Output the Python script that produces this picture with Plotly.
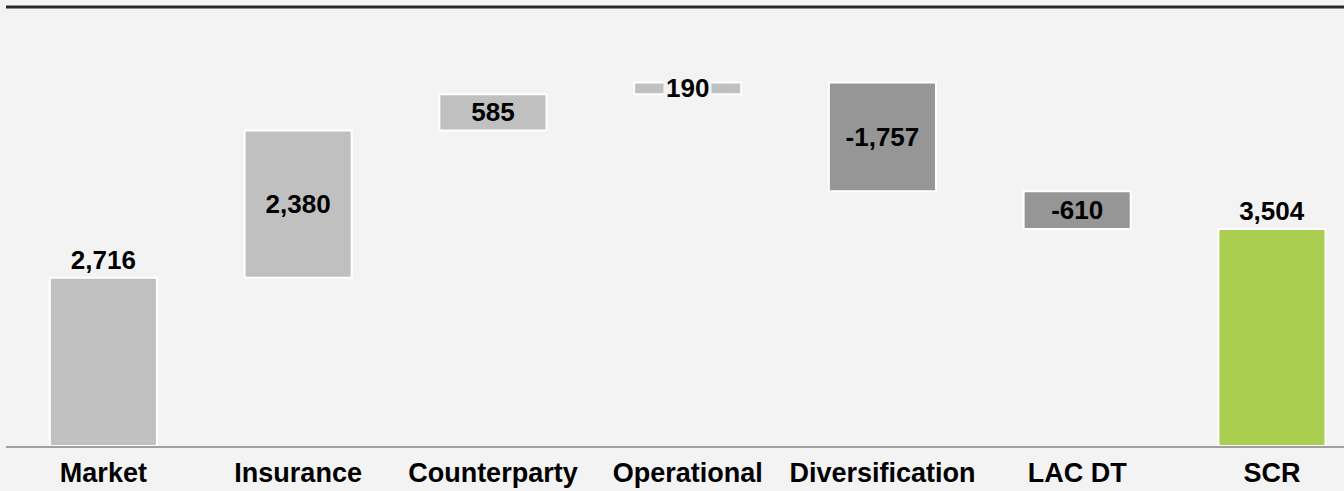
import plotly.graph_objects as go

categories = ["Market", "Insurance", "Counterparty", "Operational", "Diversification", "LAC DT", "SCR"]
values = [2716, 2380, 585, 190, -1757, -610, 3504]
measures = ["relative", "relative", "relative", "relative", "relative", "relative", "total"]
text_pos = ["outside", "inside", "inside", "none", "inside", "inside", "outside"]

labels = ["{:,}".format(v) for v in values]
labels[3] = ""

fig = go.Figure(go.Waterfall(
    x=categories, y=values, measure=measures,
    text=labels, textposition=text_pos, constraintext="none", insidetextanchor="middle",
    textfont=dict(family="Liberation Sans, Arial", size=26, color="black", weight="bold"),
    increasing=dict(marker=dict(color="#C0C0C0", line=dict(color="white", width=2))),
    decreasing=dict(marker=dict(color="#969696", line=dict(color="white", width=2))),
    totals=dict(marker=dict(color="#AACE50", line=dict(color="white", width=2))),
    connector=dict(visible=False),
    cliponaxis=False,
))

# small bar: label sits on top of it with background
op_mid = sum(values[:3]) + values[3] / 2
fig.add_annotation(x=categories[3], y=op_mid, text="{:,}".format(values[3]), showarrow=False,
                   font=dict(family="Liberation Sans, Arial", size=26, color="black", weight="bold"),
                   bgcolor="#F3F3F3", borderpad=2)

fig.add_shape(type="line", xref="paper", yref="paper", x0=0, x1=1, y0=1, y1=1,
              line=dict(color="#2A2A2A", width=3))

fig.update_layout(
    width=1344, height=491,
    margin=dict(l=6, r=0, t=7, b=45),
    paper_bgcolor="#F3F3F3", plot_bgcolor="#F3F3F3",
    showlegend=False, waterfallgap=0.45,
    font=dict(family="Liberation Sans, Arial", color="black"),
)
fig.update_xaxes(showline=True, linecolor="#A0A0A0", linewidth=2, showgrid=False,
                 range=[-0.5, 6.37],
                 ticks="outside", ticklen=2, tickcolor="rgba(0,0,0,0)",
                 tickfont=dict(size=27, weight="bold", color="black"))
fig.update_yaxes(visible=False, range=[0, 7090])

fig.write_html("out.html", config={"displayModeBar": False},
               post_script="document.body.style.margin='0';document.body.style.background='#F3F3F3';")
